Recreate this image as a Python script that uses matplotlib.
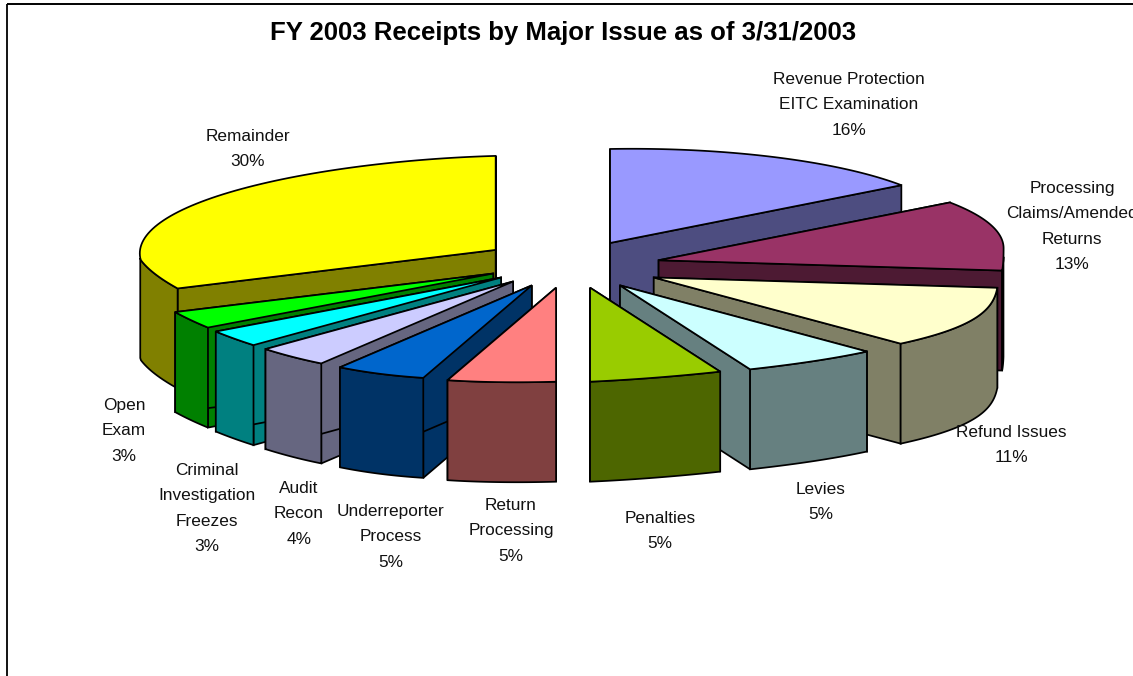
import numpy as np
import matplotlib
matplotlib.use("Agg")
import matplotlib.pyplot as plt
from matplotlib.colors import to_rgb

TITLE = "FY 2003 Receipts by Major Issue as of 3/31/2003"
categories = ["Revenue Protection\nEITC Examination", "Processing\nClaims/Amended\nReturns",
              "Refund Issues", "Levies", "Penalties", "Return\nProcessing",
              "Underreporter\nProcess", "Audit\nRecon", "Criminal\nInvestigation\nFreezes",
              "Open\nExam", "Remainder"]
values = [16, 13, 11, 5, 5, 5, 5, 4, 3, 3, 30]

colors = ["#9999FF", "#993366", "#FFFFCC", "#CCFFFF", "#99CC00", "#FF8080",
          "#0066CC", "#CCCCFF", "#00FFFF", "#00FF00", "#FFFF00"]
# label centre x and first-line y, in pixels
label_pos = [(849, 78), (1072, 187), (1011, 431), (821, 488), (660, 517), (511, 504),
             (391, 510), (299, 487), (207, 469), (124, 404), (248, 135)]

W, H = 1133, 676
CX, CY, EX, EY = 574, 264, 88, 24   # pie centre and explosion
B = 94
DEPTH = 100
LINE_PX = 25.3


def rim(t):
    """Oblique projection of the pie's rim, relative to a slice's apex."""
    s, c = np.sin(t), -np.cos(t)
    cp = np.maximum(c, 0)
    dx = np.where(s >= 0,
                  345*s + 110*cp**2*s**2 + 50*s*cp**2,
                  355*s + np.where(c > 0, 70, 25)*c*s**2 + 25*s*cp**8)
    tilt = np.where(s >= 0, 12 + 6*c, 10)
    return dx, B*c - tilt*s


def apex(m):
    s, c = np.sin(m), np.cos(m)
    shift = -4.5*abs(c)**6 if (s < 0 and c < 0) else -15*c*abs(s)
    return CX + EX*s + shift, CY - EY*c


fig = plt.figure(figsize=(W/100, H/100), dpi=100)
ax = fig.add_axes([0, 0, 1, 1])
ax.set_xlim(0, W); ax.set_ylim(H, 0); ax.axis("off")

ax.plot([7, 7], [4, H], color="black", lw=1.3, solid_capstyle="butt")
ax.plot([7, W], [3.5, 3.5], color="black", lw=1.4, solid_capstyle="butt")

edges = np.cumsum([0] + values) / sum(values) * 2*np.pi
order = sorted(range(len(values)), key=lambda i: -np.cos((edges[i]+edges[i+1])/2))
for z, i in enumerate(order):
    t0, t1 = edges[i], edges[i+1]
    ax0, ay0 = apex((t0+t1)/2)
    tt = np.linspace(t0, t1, 80)
    dx, dy = rim(tt)
    rx, ry = ax0+dx, ay0+dy
    face = np.array(to_rgb(colors[i]))
    side = face*0.5
    kw = dict(edgecolor="black", linewidth=1.25, joinstyle="miter", zorder=10+z)
    # radial walls
    for k in (0, -1):
        ax.fill([ax0, rx[k], rx[k], ax0], [ay0, ry[k], ry[k]+DEPTH, ay0+DEPTH], facecolor=side, **kw)
    # outer wall (front part only)
    mask = (tt >= np.radians(95)) & (tt <= np.radians(272))
    if mask.sum() > 1:
        ax.fill(np.r_[rx[mask], rx[mask][::-1]], np.r_[ry[mask], ry[mask][::-1]+DEPTH], facecolor=side, **kw)
    # top
    ax.fill(np.r_[ax0, rx], np.r_[ay0, ry], facecolor=face, **kw)

font = "Liberation Sans"
ax.text(563.5, 33, TITLE, ha="center", va="center", family=font, weight="bold", fontsize=18.5, color="black", zorder=50)
for name, v, (x, y) in zip(categories, values, label_pos):
    for j, line in enumerate(f"{name}\n{v}%".split("\n")):
        ax.text(x, y + 1.5 + j*LINE_PX, line, ha="center", va="center", family=font, fontsize=12.4, color="#111111", zorder=50)

fig.savefig("out.png", dpi=100)
